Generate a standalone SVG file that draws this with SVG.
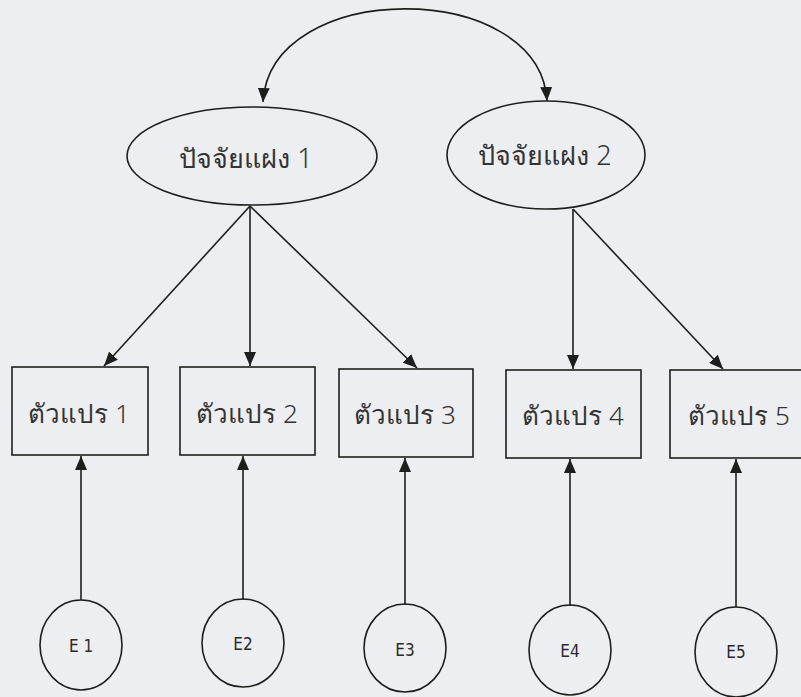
<svg xmlns="http://www.w3.org/2000/svg" width="801" height="697" viewBox="0 0 801 697">
<style>
.bg{fill:#edeef2}
.shape{fill:none;stroke:#1e1e1e;stroke-width:1.6}
.edge{fill:none;stroke:#1e1e1e;stroke-width:1.6}
.lbl{font-family:"Noto Sans","DejaVu Sans",sans-serif;font-size:26px;font-weight:300;fill:#333;text-anchor:middle;dominant-baseline:central}
.big{font-size:27px}
.e{font-family:"DejaVu Sans Condensed","DejaVu Sans",sans-serif;font-size:17px;fill:#2a2a2a;text-anchor:middle;dominant-baseline:central}
</style>
<defs>
<marker id="ah" viewBox="0 0 14 12" refX="14" refY="6" markerWidth="14" markerHeight="12" markerUnits="userSpaceOnUse" orient="auto-start-reverse">
<path d="M0,0 L14,6 L0,12 Z" fill="#1e1e1e"/>
</marker>
</defs>
<rect class="bg" x="0" y="0" width="801" height="697"/>
<g id="connectors">
<path class="edge" d="M263,102 C270,-22 540,-22 547,101" marker-start="url(#ah)" marker-end="url(#ah)"/>
<line class="edge" x1="250" y1="206" x2="104" y2="366" marker-end="url(#ah)"/>
<line class="edge" x1="250" y1="206" x2="250" y2="366" marker-end="url(#ah)"/>
<line class="edge" x1="250" y1="206" x2="417" y2="368" marker-end="url(#ah)"/>
<line class="edge" x1="573" y1="209" x2="573" y2="369" marker-end="url(#ah)"/>
<line class="edge" x1="573" y1="209" x2="723" y2="369" marker-end="url(#ah)"/>
<line class="edge" x1="81" y1="600" x2="81" y2="456" marker-end="url(#ah)"/>
<line class="edge" x1="243" y1="600" x2="243" y2="456" marker-end="url(#ah)"/>
<line class="edge" x1="405" y1="605" x2="405" y2="458" marker-end="url(#ah)"/>
<line class="edge" x1="570" y1="606" x2="570" y2="459" marker-end="url(#ah)"/>
<line class="edge" x1="736" y1="607" x2="736" y2="459" marker-end="url(#ah)"/>
</g>
<g id="factor1"><ellipse class="shape" cx="252" cy="156" rx="125" ry="49"/><text class="lbl big" x="246" y="157">ปัจจัยแฝง 1</text></g>
<g id="factor2"><ellipse class="shape" cx="546" cy="155" rx="99" ry="54"/><text class="lbl big" x="545" y="154">ปัจจัยแฝง 2</text></g>
<g id="var1"><rect class="shape" x="12" y="367" width="136" height="88"/><text class="lbl" x="79" y="413">ตัวแปร 1</text></g>
<g id="var2"><rect class="shape" x="180" y="367" width="135" height="88"/><text class="lbl" x="247" y="413">ตัวแปร 2</text></g>
<g id="var3"><rect class="shape" x="339" y="369" width="134" height="88"/><text class="lbl" x="405" y="414">ตัวแปร 3</text></g>
<g id="var4"><rect class="shape" x="506" y="370" width="135" height="88"/><text class="lbl" x="573" y="415">ตัวแปร 4</text></g>
<g id="var5"><rect class="shape" x="670" y="370" width="140" height="88"/><text class="lbl" x="739" y="415">ตัวแปร 5</text></g>
<g id="e1"><ellipse class="shape" cx="81" cy="645" rx="41" ry="45"/><text class="e" x="81" y="646">E 1</text></g>
<g id="e2"><ellipse class="shape" cx="243" cy="643" rx="41" ry="44"/><text class="e" x="243" y="644">E2</text></g>
<g id="e3"><ellipse class="shape" cx="405" cy="648" rx="41" ry="44"/><text class="e" x="405" y="650">E3</text></g>
<g id="e4"><ellipse class="shape" cx="570" cy="650" rx="41" ry="45"/><text class="e" x="570" y="651">E4</text></g>
<g id="e5"><ellipse class="shape" cx="736" cy="652" rx="41" ry="45"/><text class="e" x="736" y="652">E5</text></g>
</svg>
